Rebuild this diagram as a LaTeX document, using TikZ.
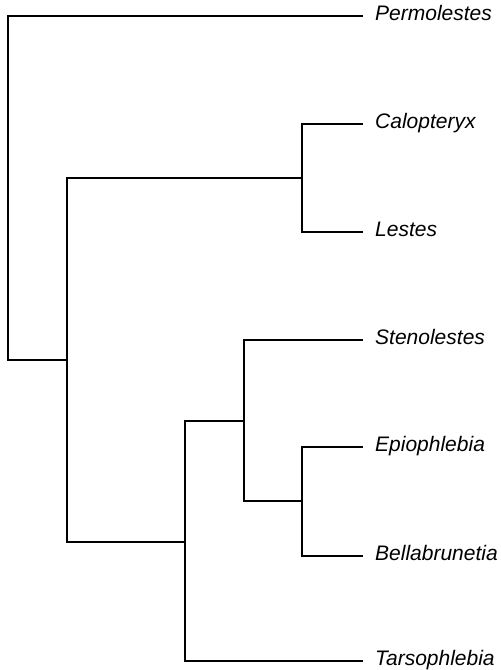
\documentclass[tikz,border=0pt]{standalone}
\usepackage{fontspec}
\setmainfont{Liberation Sans}
\begin{document}
\begin{tikzpicture}[x=1pt,y=-1pt,
  branch/.style={draw=black,line width=1.5pt,line cap=rect,line join=miter},
  taxon/.style={anchor=base west,inner sep=0pt,font=\fontsize{21}{25}\selectfont\itshape,yshift=-4.8pt}]
\useasboundingbox (0,0) rectangle (501,670);

% internal nodes
\coordinate (root) at (8,188);
\coordinate (nA) at (67,360);
\coordinate (nB) at (302,178);
\coordinate (nC) at (185,542);
\coordinate (nD) at (244,421);
\coordinate (nE) at (302,501);

% branch tips
\coordinate (tPer) at (362,16);
\coordinate (tCal) at (362,124);
\coordinate (tLes) at (362,232);
\coordinate (tSte) at (362,340);
\coordinate (tEpi) at (362,447);
\coordinate (tBel) at (362,556);
\coordinate (tTar) at (362,661);

% taxon labels
\node[taxon] (lPer) at (375,16)  {Permolestes};
\node[taxon] (lCal) at (375,124) {Calopteryx};
\node[taxon] (lLes) at (375,232) {Lestes};
\node[taxon] (lSte) at (375,340) {Stenolestes};
\node[taxon] (lEpi) at (375,447) {Epiophlebia};
\node[taxon] (lBel) at (375,556) {Bellabrunetia};
\node[taxon] (lTar) at (375,661) {Tarsophlebia};

% rectangular cladogram branches
\draw[branch] (root) |- (tPer);
\draw[branch] (root) |- (nA);
\draw[branch] (nA) |- (nB);
\draw[branch] (nA) |- (nC);
\draw[branch] (nB) |- (tCal);
\draw[branch] (nB) |- (tLes);
\draw[branch] (nC) |- (nD);
\draw[branch] (nC) |- (tTar);
\draw[branch] (nD) |- (tSte);
\draw[branch] (nD) |- (nE);
\draw[branch] (nE) |- (tEpi);
\draw[branch] (nE) |- (tBel);
\end{tikzpicture}
\end{document}
